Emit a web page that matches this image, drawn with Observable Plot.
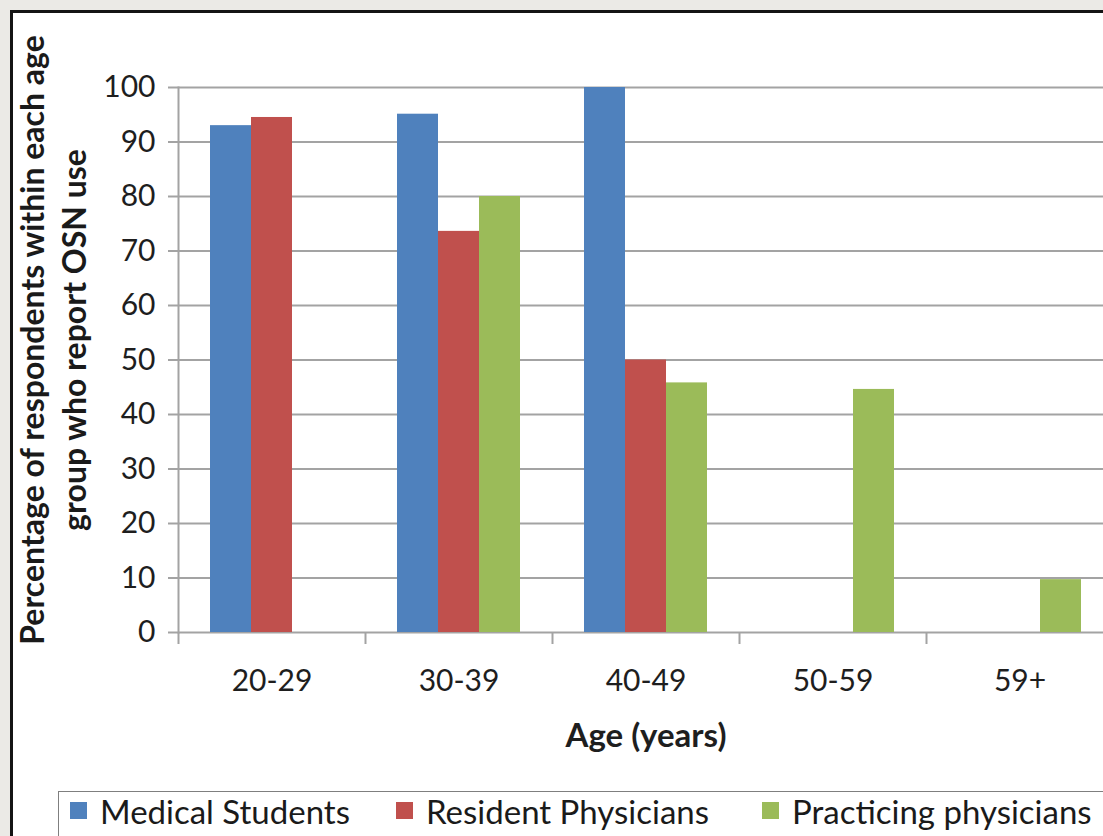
<!DOCTYPE html>
<html>
<head>
<meta charset="utf-8">
<script src="https://cdn.jsdelivr.net/npm/d3@7"></script>
<script src="https://cdn.jsdelivr.net/npm/@observablehq/plot@0.6"></script>
<style>
  html, body { margin: 0; padding: 0; width: 1103px; height: 836px; overflow: hidden; background: #ebeae6; }
  #frame {
    position: absolute; left: 10px; top: 10px; width: 1200px; height: 900px;
    border-left: 3px solid #141414; border-top: 3px solid #141414;
    background: #fff; overflow: hidden;
  }
  #chart { position: absolute; left: 0; top: 0; }
  #chart svg { max-width: none; }
  g[aria-label="fx-axis label"] { font-weight: 700; font-size: 33px; }
  .legend {
    position: absolute; left: 45px; top: 778px; width: 1200px; height: 80px;
    border: 1.5px solid #7f7f7f; font-family: Lato, sans-serif; font-size: 33px; color: #1a1a1a;
  }
  .item { position: absolute; top: 0; height: 37px; display: flex; align-items: center; white-space: nowrap; }
  .swatch { width: 17px; height: 17px; margin-right: 13px; }
</style>
</head>
<body>
<div id="frame">
  <div id="chart"></div>
  <div class="legend" id="legend"></div>
</div>
<script>
// Age groups on the horizontal axis
const ages = ["20-29", "30-39", "40-49", "50-59", "59+"];

// Respondent groups, one bar each per age group
const groups = ["Medical Students", "Resident Physicians", "Practicing physicians"];
const colors = ["#4f81bd", "#c0504d", "#9bbb59"];

// Percentage reporting OSN use (null = no respondents in that age group)
const medicalStudents      = [93, 95.1, 100, null, null];
const residentPhysicians   = [94.5, 73.6, 50, null, null];
const practicingPhysicians = [null, 80, 45.8, 44.6, 9.7];

const yTicks = [0, 10, 20, 30, 40, 50, 60, 70, 80, 90, 100];
const yTitle = "Percentage of respondents within each age\ngroup who report OSN use";
const xTitle = "Age (years)";

const seriesValues = [medicalStudents, residentPhysicians, practicingPhysicians];
const rows = ages.flatMap((age, i) =>
  groups.map((group, j) => ({age, group, value: seriesValues[j][i]}))
        .filter(d => d.value != null)
);

const W = 1100, ML = 165, MR = 0;
const step = (W - ML - MR) / ages.length;
const grey = "#a3a3a3";

const chart = Plot.plot({
  width: W,
  height: 770,
  marginLeft: ML,
  marginRight: MR,
  marginTop: 74,
  marginBottom: 151,
  style: {fontFamily: "Lato, sans-serif", color: "#1e1e1e", background: "transparent"},
  fx: {domain: ages, paddingInner: 0, paddingOuter: 0, label: null},
  x: {domain: groups, paddingInner: 0, paddingOuter: 0.78, axis: null},
  y: {domain: [0, 100], label: null},
  color: {domain: groups, range: colors},
  marks: [
    Plot.gridY(yTicks, {stroke: grey, strokeOpacity: 1, strokeWidth: 2}),
    Plot.frame({anchor: "left", facetAnchor: "left", stroke: grey, strokeWidth: 2}),
    Plot.barY(rows, {fx: "age", x: "group", y: "value", fill: "group"}),
    Plot.axisY(yTicks, {tickSize: 10, tickPadding: 13, stroke: grey, strokeWidth: 2, fontSize: 30, label: null}),
    // category separators below the baseline
    Plot.axisFx({anchor: "bottom", tickSize: 12, tickFormat: () => "", dx: -step / 2, stroke: grey, strokeWidth: 2, label: null}),
    Plot.axisFx({anchor: "bottom", tickSize: 0, tickPadding: 37, fontSize: 30, label: xTitle, labelAnchor: "center", labelOffset: 114}),
    Plot.text([yTitle], {
      facet: "super", frameAnchor: "left", rotate: -90, dx: -127, dy: -20,
      fontSize: 32, fontWeight: "bold", lineHeight: 1.3, textAnchor: "middle", lineAnchor: "middle",
      fill: "#1a1a1a"
    })
  ]
});
document.getElementById("chart").append(chart);

// Legend
const legendLeft = [11, 337, 703];
const legend = document.getElementById("legend");
groups.forEach((g, i) => {
  const item = document.createElement("div");
  item.className = "item";
  item.style.left = legendLeft[i] + "px";
  const sw = document.createElement("span");
  sw.className = "swatch";
  sw.style.background = colors[i];
  const label = document.createElement("span");
  label.textContent = g;
  item.append(sw, label);
  legend.append(item);
});
</script>
</body>
</html>
